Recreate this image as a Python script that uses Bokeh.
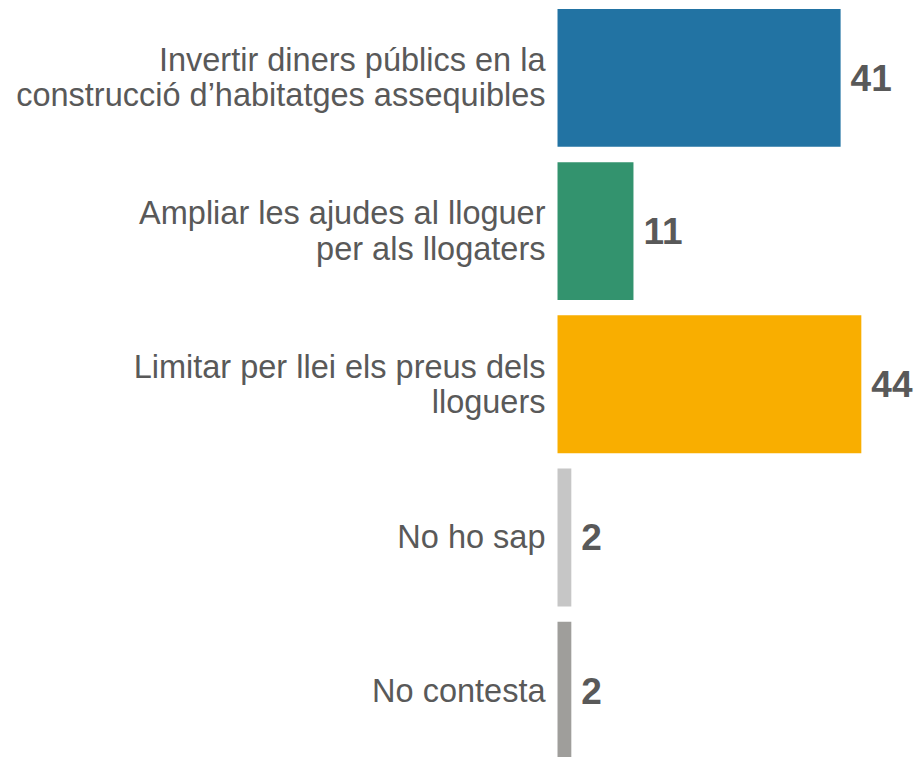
from bokeh.plotting import figure
from bokeh.models import ColumnDataSource, Range1d
from bokeh.core.properties import value
from bokeh.embed import file_html
from bokeh.resources import INLINE

categories = [
    "Invertir diners públics en la\nconstrucció d\u2019habitatges assequibles",
    "Ampliar les ajudes al lloguer\nper als llogaters",
    "Limitar per llei els preus dels\nlloguers",
    "No ho sap",
    "No contesta",
]
values = [41, 11, 44, 2, 2]
colors = ["#2273a3", "#33936e", "#f9ae00", "#c6c6c6", "#9f9e9b"]
value_labels = [str(v) for v in values]
positions = list(range(len(categories)))

src = ColumnDataSource(dict(
    y=positions, v=values, c=colors, cat=categories, lab=value_labels,
    zero=[0] * len(values),
))

W, H = 920, 757
p = figure(width=W, height=H, output_backend="svg", toolbar_location=None,
           x_range=Range1d(-80.67, 52.57), y_range=Range1d(4.436, -0.505),
           min_border=0, min_border_left=0, min_border_right=0,
           min_border_top=0, min_border_bottom=0)
p.axis.visible = False
p.grid.visible = False
p.outline_line_color = None
p.background_fill_color = "white"
p.border_fill_color = "white"

p.hbar(y="y", left=0, right="v", height=0.9, fill_color="c", line_color=None, source=src)

p.text(x="zero", y="y", text="cat", source=src, x_offset=-12,
       text_align="right", text_baseline="middle",
       text_font=value("Liberation Sans"), text_font_size="32.5px",
       text_color="#595959", text_line_height=0.98)

p.text(x="v", y="y", text="lab", source=src, x_offset=10,
       text_align="left", text_baseline="middle",
       text_font=value("Liberation Sans"), text_font_size="37px",
       text_font_style="bold", text_color="#595959")

open("out.html", "w").write(file_html(p, INLINE))
